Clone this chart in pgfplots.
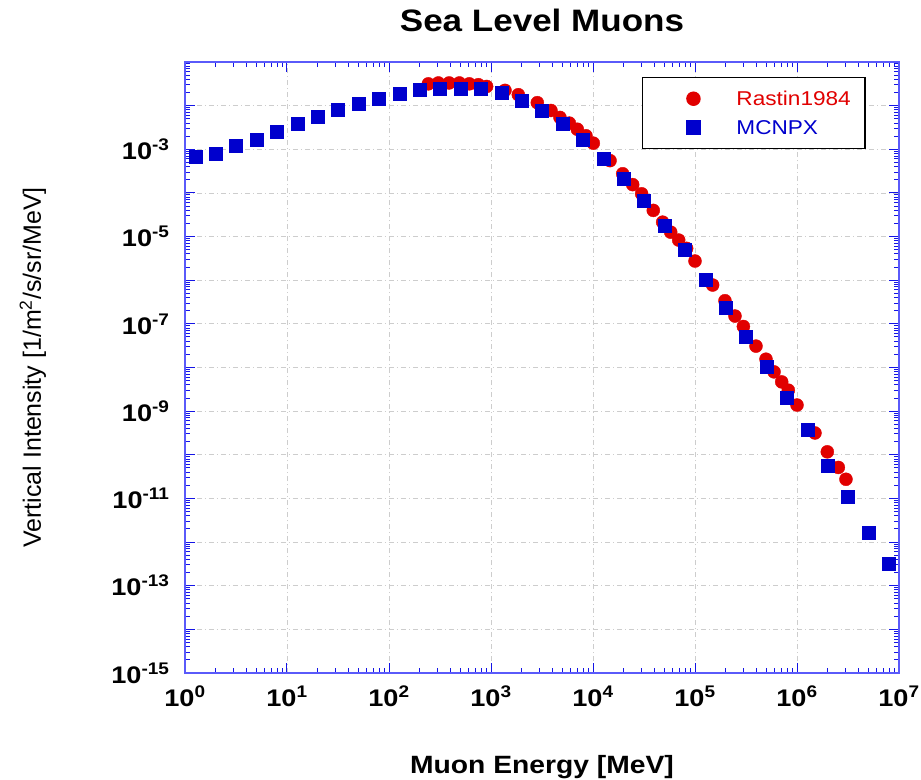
\documentclass[border=0pt]{standalone}
\usepackage{pgfplots}
\usepackage{pgfplotstable}
\pgfplotsset{compat=1.18}
\usepackage{fontspec}
\setmainfont{Liberation Sans}[FakeStretch=1.13]
\newfontfamily\ylabfont{Liberation Sans}

\definecolor{rastinred}{RGB}{225,0,0}
\definecolor{mcnpxblue}{RGB}{0,0,205}
\definecolor{frameblue}{RGB}{90,90,250}
\definecolor{tickblue}{RGB}{20,20,230}
\definecolor{gridgray}{RGB}{205,205,205}

% Rastin (1984) measured vertical muon intensity at sea level
\pgfplotstableread{
E        I
243.2    3.16e-2
304.8    3.31e-2
389.0    3.31e-2
489.8    3.31e-2
612.4    3.16e-2
751.6    3.02e-2
905.7    2.75e-2
1371     2.24e-2
1854     1.78e-2
2844     1.17e-2
3873     7.76e-3
4742     5.37e-3
5861     3.98e-3
7015     2.88e-3
8531     2.04e-3
10070    1.38e-3
14690    5.50e-4
19540    2.75e-4
24490    1.55e-4
29990    9.55e-5
38990    3.98e-5
48190    2.14e-5
57810    1.26e-5
69180    8.32e-6
82790    5.37e-6
1.000e5  2.75e-6
1.489e5  7.76e-7
1.968e5  3.39e-7
2.466e5  1.51e-7
2.979e5  8.71e-8
3.963e5  3.09e-8
4.966e5  1.55e-8
5.957e5  7.94e-9
7.079e5  4.68e-9
8.222e5  3.02e-9
1.000e6  1.38e-9
1.500e6  3.16e-10
1.982e6  1.17e-10
2.541e6  5.13e-11
3.020e6  2.75e-11
}\rastin

% MCNPX simulated spectrum
\pgfplotstableread{
E        I
1.259    6.61e-4
1.995    8.13e-4
3.162    1.23e-3
5.012    1.62e-3
7.943    2.51e-3
12.59    3.80e-3
19.95    5.62e-3
31.62    8.13e-3
50.12    1.12e-2
79.43    1.41e-2
125.9    1.86e-2
199.5    2.29e-2
316.2    2.45e-2
501.2    2.45e-2
794.3    2.45e-2
1259     1.95e-2
1995     1.32e-2
3162     7.59e-3
5012     3.80e-3
7943     1.66e-3
12590    5.96e-4
19950    2.09e-4
31620    6.61e-5
50120    1.78e-5
79430    5.01e-6
1.259e5  1.05e-6
1.995e5  2.40e-7
3.162e5  5.13e-8
5.012e5  1.05e-8
7.943e5  2.04e-9
1.259e6  3.72e-10
1.995e6  5.75e-11
3.162e6  1.12e-11
5.012e6  1.62e-12
7.943e6  3.24e-13
}\mcnpx

\begin{document}
\begin{tikzpicture}
\useasboundingbox (-185bp,-107bp) rectangle (736bp,673bp);
\begin{axis}[
  at={(0,0)}, anchor=south west,
  scale only axis, width=714bp, height=611bp,
  xmode=log, ymode=log,
  xmin=1, xmax=1e7, ymin=1e-15, ymax=1e-1,
  xtick={1,10,100,1000,1e4,1e5,1e6,1e7},
  xticklabels={10\textsuperscript{0},10\textsuperscript{1},10\textsuperscript{2},10\textsuperscript{3},10\textsuperscript{4},10\textsuperscript{5},10\textsuperscript{6},10\textsuperscript{7}},
  ytick={1e-15,1e-14,1e-13,1e-12,1e-11,1e-10,1e-9,1e-8,1e-7,1e-6,1e-5,1e-4,1e-3,1e-2,1e-1},
  yticklabels={10\textsuperscript{-15},{},10\textsuperscript{-13},{},10\textsuperscript{-11},{},10\textsuperscript{-9},{},10\textsuperscript{-7},{},10\textsuperscript{-5},{},10\textsuperscript{-3},{},{}},
  ticklabel style={font=\bfseries\fontsize{24bp}{26bp}\selectfont},
  xticklabel style={yshift=-9bp},
  yticklabel style={xshift=-12bp},
  tick align=inside,
  major tick length=10bp, minor tick length=5bp,
  every tick/.style={tickblue, line width=1bp},
  axis line style={frameblue, line width=1.2bp},
  grid=major,
  major grid style={gridgray, line width=0.8bp, dash pattern=on 5bp off 3bp on 1bp off 3bp},
  title={Sea Level Muons},
  title style={at={(axis description cs:0.5,1)}, anchor=base, yshift=25bp,
    font=\bfseries\fontsize{31bp}{33bp}\selectfont},
  xlabel={Muon Energy [MeV]},
  xlabel style={at={(axis description cs:0.5,0)}, anchor=base, yshift=-100bp,
    font=\bfseries\fontsize{25bp}{27bp}\selectfont},
  ylabel={Vertical Intensity [1/m\textsuperscript{2}/s/sr/MeV]},
  ylabel style={at={(axis description cs:-0.213,0.5)}, anchor=center,
    font=\ylabfont\fontsize{25bp}{27bp}\selectfont},
  legend style={at={(axis description cs:0.640,0.9755)}, anchor=north west,
    draw=black, line width=1.5bp, fill=white,
    inner xsep=14bp, inner ysep=14bp, row sep=15bp,
    font=\fontsize{20bp}{22bp}\selectfont,
    nodes={inner sep=0bp, text height=14bp, text depth=0bp},
    /tikz/every odd column/.style={column sep=36.5bp}},
  legend cell align=left,
  legend image code/.code={\path (0bp,0bp); \draw[#1] plot coordinates {(36bp,0bp)};},
]
\addplot[only marks, mark=*, mark size=6.5bp, color=rastinred,
  mark options={draw=none, fill=rastinred}] table[x=E, y=I] {\rastin};
\addlegendentry{\color{rastinred}Rastin1984}
\addplot[only marks, mark=square*, mark size=6.5bp, color=mcnpxblue,
  mark options={draw=none, fill=mcnpxblue}] table[x=E, y=I] {\mcnpx};
\addlegendentry{\color{mcnpxblue}MCNPX}
\end{axis}
\end{tikzpicture}
\end{document}
